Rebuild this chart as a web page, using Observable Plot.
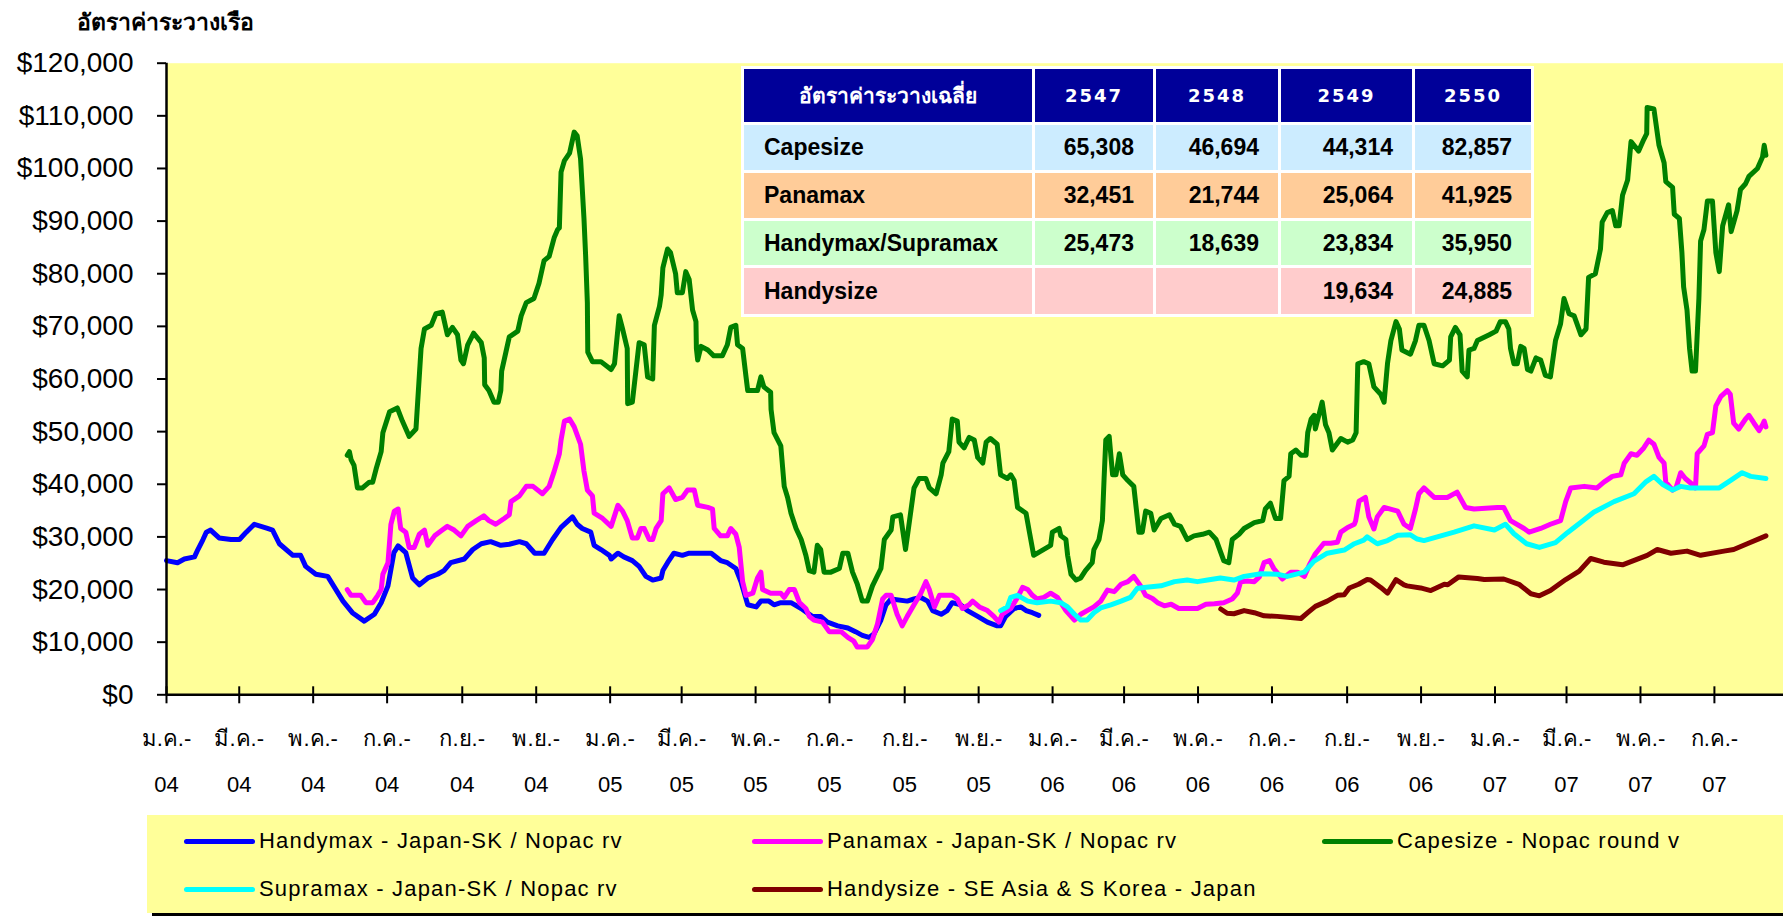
<!DOCTYPE html>
<html>
<head>
<meta charset="utf-8">
<script src="https://cdn.jsdelivr.net/npm/d3@7"></script>
<script src="https://cdn.jsdelivr.net/npm/@observablehq/plot@0.6"></script>
<style>
  html, body { margin: 0; padding: 0; background: #fff; overflow: hidden; }
  #wrap { position: relative; width: 1783px; height: 916px; overflow: hidden; font-family: "Liberation Sans", Arial, sans-serif; }
  #chart { position: absolute; left: 0; top: 0; }
  #title { position: absolute; left: 77px; top: 4px; font-weight: bold; font-size: 23px; color: #000; z-index: 3; white-space: nowrap; }
  #avg { position: absolute; left: 741px; top: 66px; border-collapse: separate; border-spacing: 3px; background: #fff; table-layout: fixed; z-index: 3; }
  #avg td { padding: 0; font-family: "Liberation Sans", Arial, sans-serif; font-weight: bold; font-size: 23px; color: #000; white-space: nowrap; }
  #avg tr.head td { background: #000099; color: #fff; text-align: center; height: 53px; font-family: "DejaVu Sans", Verdana, sans-serif; font-size: 18px; letter-spacing: 2px; }
  #avg tr.head td.th { font-size: 21px; letter-spacing: 0; }
  #avg td.lab { text-align: left; padding-left: 20px; }
  #avg td.num { text-align: right; padding-right: 19px; }
  #legend { position: absolute; left: 147px; top: 815px; width: 1636px; height: 98px; background: #FFFF99; z-index: 2; }
  #legendLine { position: absolute; left: 152px; top: 913px; width: 1631px; height: 3px; background: #000; z-index: 2; }
  .lg { position: absolute; height: 30px; display: flex; align-items: center; font-family: "Liberation Sans", Arial, sans-serif; font-size: 22px; letter-spacing: 1.2px; white-space: nowrap; }
  .sw { width: 71px; height: 5px; border-radius: 3px; margin-right: 4px; flex: none; }
</style>
</head>
<body>
<div id="wrap">
  <div id="chart"></div>
  <div id="title"></div>
  <table id="avg"></table>
  <div id="legend"></div>
  <div id="legendLine"></div>
</div>
<script>
// ---------- Data (x = weeks since 1 Jan 2004, y = US$/day) ----------
const titleText = "อัตราค่าระวางเรือ";

const handymax = [[0,25500],[1.3,25100],[2.1,25800],[3.3,26200],[3.7,27600],[4.3,29500],[4.7,30900],[5.2,31300],[6.2,29800],[7.6,29500],[8.6,29500],[9.4,30900],[10.35,32400],[11.9,31600],[12.5,31300],[13.3,28700],[14.9,26500],[15.8,26500],[16.4,24400],[17.6,22900],[19.0,22500],[19.8,20400],[20.8,17800],[21.9,15600],[23.3,14000],[24.5,15300],[25.3,17500],[26.1,20700],[26.8,27000],[27.3,28300],[28.2,27000],[29.0,22200],[29.8,20900],[30.8,22200],[31.95,22900],[32.7,23600],[33.5,25100],[35.1,25800],[36.1,27600],[37.1,28700],[38.2,29100],[39.4,28400],[40.4,28600],[41.6,29100],[42.4,28700],[43.4,26900],[44.5,26900],[45.5,29500],[46.5,31800],[47.85,33800],[48.4,32400],[49.0,31600],[50.0,30900],[50.4,28400],[51.2,27600],[52.2,26500],[52.4,25800],[53.2,26900],[53.9,26200],[54.9,25500],[55.7,24400],[56.5,22500],[57.3,21800],[58.3,22200],[58.5,23600],[59.05,25100],[59.8,26900],[60.8,26500],[61.6,26900],[64.2,26900],[65.3,25500],[66.1,25100],[67.1,24000],[67.7,21500],[68.5,17100],[69.5,16700],[70.05,17800],[71.0,17800],[71.6,17100],[72.4,17500],[73.6,17500],[74.8,16400],[76.1,14900],[77.1,14900],[77.9,13800],[79.1,13100],[80.3,12700],[81.2,12000],[82.0,11300],[82.8,10900],[83.4,11600],[84.2,14200],[84.8,17100],[85.4,18200],[87.3,17800],[88.1,18200],[88.9,18500],[89.7,17800],[90.3,16000],[91.3,15300],[92.0,16000],[92.6,17500],[93.6,17100],[94.4,16000],[95.6,14900],[96.75,13800],[97.9,13100],[98.3,13100],[98.9,14900],[99.9,16400],[100.7,16700],[101.3,16000],[102.05,15600],[102.8,15100]];

const panamax = [[21.3,20000],[21.75,18900],[22.9,18900],[23.5,17500],[24.3,17500],[24.9,18900],[25.3,20000],[25.5,22900],[26.1,25100],[26.45,32400],[26.85,34900],[27.3,35300],[27.6,31600],[28.2,30900],[28.6,28000],[29.2,28000],[29.8,30500],[30.4,31300],[30.8,28400],[31.6,30200],[32.5,31300],[33.1,32000],[33.9,31300],[34.7,30200],[35.5,32000],[36.5,33100],[37.4,34000],[38.0,33100],[38.8,32400],[39.8,33500],[40.4,34200],[40.6,36700],[41.6,37800],[42.4,39600],[43.2,39600],[44.3,38200],[45.1,39600],[45.7,42500],[46.3,45800],[46.5,48400],[46.9,52000],[47.5,52400],[48.05,50900],[48.8,47600],[49.2,42500],[49.6,38900],[50.2,37800],[50.4,34500],[51.4,33500],[52.4,32000],[53.2,36000],[53.75,34900],[54.3,33100],[54.9,29800],[55.5,29800],[55.9,31600],[56.3,31600],[56.9,29500],[57.3,29500],[57.7,31600],[58.3,33100],[58.5,38200],[59.25,39300],[60.0,37100],[60.8,37500],[61.4,38900],[62.2,38900],[62.6,36000],[63.8,35600],[64.35,35300],[64.55,31600],[65.3,30200],[66.1,30200],[66.5,31600],[67.1,30500],[67.5,28000],[67.9,21500],[68.3,18900],[69.1,19300],[69.65,22200],[70.05,23300],[70.25,20000],[71.2,19300],[72.4,19300],[72.8,18500],[73.4,20000],[74.0,20000],[74.6,17500],[75.35,16400],[75.75,14900],[76.3,14200],[77.3,13800],[78.1,12000],[79.5,12000],[80.3,10900],[81.0,10200],[81.4,9100],[82.6,9100],[83.2,10500],[83.8,13500],[84.4,18200],[84.8,18900],[85.4,18900],[86.1,15300],[86.7,13100],[87.3,14900],[88.1,17100],[88.9,19300],[89.5,21500],[89.9,20000],[90.5,16700],[91.1,18900],[92.6,18900],[93.2,18200],[93.8,16400],[94.6,17100],[95.0,17800],[95.8,16700],[96.75,16000],[97.5,14900],[98.1,13800],[98.5,15300],[99.5,16400],[100.3,18500],[100.9,20400],[101.5,20000],[102.05,18900],[102.6,18200],[103.4,18500],[104.2,19300],[105.0,18500],[105.4,17500],[106.0,16000],[107.0,14200],[107.75,15300],[108.5,16000],[109.3,16700],[110.1,17800],[110.9,19900],[111.7,19600],[112.5,21000],[113.3,21500],[114.0,22500],[114.8,20700],[115.4,18900],[116.2,18300],[116.8,17500],[117.6,16900],[118.4,17200],[119.3,16400],[120.3,16400],[121.5,16400],[122.5,17200],[123.5,17300],[124.6,17500],[125.6,18200],[126.2,19300],[126.6,21500],[127.4,21600],[128.2,21500],[128.8,22400],[129.35,25100],[130.0,25500],[130.5,24000],[131.5,22000],[132.5,23300],[133.3,23300],[134.1,22500],[134.7,24700],[135.4,26800],[136.4,28800],[137.2,28800],[138.0,29000],[138.4,30900],[139.2,31800],[140.0,32400],[140.15,33100],[140.55,36800],[141.3,37500],[141.7,33800],[142.3,31500],[142.7,33800],[143.5,35600],[145.1,34900],[145.85,32400],[146.6,31600],[147.2,35300],[147.6,38200],[148.2,39300],[149.4,37500],[150.95,37500],[152.1,38500],[153.1,35600],[154.1,35300],[156.85,35600],[157.6,35600],[158.4,33100],[160.0,31600],[160.6,30900],[161.95,31600],[163.1,32400],[164.3,33100],[164.9,36700],[165.5,39300],[167.1,39600],[168.6,39300],[169.4,40400],[170.4,41500],[171.4,41800],[171.8,44000],[172.6,45800],[173.3,45500],[174.1,46900],[174.7,48400],[175.3,47600],[175.9,45100],[176.5,44000],[176.7,40400],[177.5,38900],[177.9,39300],[178.45,42200],[179.0,41100],[179.8,40000],[180.2,39300],[180.4,45800],[181.2,47300],[181.6,49500],[182.2,49800],[182.6,54900],[183.2,56700],[183.95,57800],[184.3,57100],[184.7,51600],[185.3,50500],[186.1,52400],[186.5,53100],[187.1,51600],[187.7,50200],[188.1,51300],[188.3,52000],[188.5,50900]];

const capesize = [[21.3,45500],[21.55,46200],[21.75,44700],[22.1,43600],[22.5,39300],[23.1,39300],[23.9,40400],[24.3,40400],[24.7,42900],[25.3,46200],[25.5,49800],[26.3,53800],[27.2,54500],[27.8,52000],[28.6,49100],[29.4,50500],[30.0,65800],[30.4,69500],[31.2,70200],[31.75,72400],[32.5,72700],[33.1,68400],[33.7,69800],[34.3,68400],[34.7,63600],[35.0,62900],[35.5,66500],[36.2,68700],[37.1,66900],[37.45,64000],[37.5,58900],[38.0,57800],[38.6,55600],[39.1,55600],[39.4,57800],[39.5,61500],[40.0,65100],[40.4,68000],[41.4,69100],[41.8,72000],[42.4,74500],[43.3,75300],[43.9,78200],[44.5,82500],[45.1,83300],[45.7,86900],[46.1,88400],[46.3,88700],[46.5,99300],[46.9,101500],[47.5,102900],[48.05,106900],[48.4,106200],[48.8,101800],[49.2,90500],[49.4,83300],[49.6,74500],[49.65,65100],[50.2,63300],[51.2,63300],[52.4,61800],[52.8,62900],[53.35,72000],[53.75,69500],[54.3,65800],[54.35,55300],[54.9,55600],[55.7,66900],[56.3,66500],[56.7,60400],[57.3,60000],[57.5,70200],[58.1,73800],[58.3,76000],[58.5,81100],[59.05,84700],[59.4,84000],[60.0,80000],[60.2,76400],[60.8,76400],[61.2,80400],[61.6,78900],[62.0,73100],[62.4,70900],[62.45,65800],[62.6,63600],[63.0,66200],[63.8,65500],[64.5,64400],[65.5,64400],[66.1,66500],[66.5,69800],[67.1,70200],[67.3,66500],[67.9,65800],[68.3,60400],[68.5,57800],[69.65,57800],[70.05,60400],[70.4,58500],[71.2,57500],[71.25,54200],[71.6,49800],[72.4,47300],[72.8,39600],[73.2,37500],[73.6,34500],[74.2,31600],[74.8,29500],[75.35,26500],[75.75,23600],[76.3,23300],[76.7,28400],[77.1,27600],[77.5,23300],[78.3,23300],[79.3,24000],[79.7,26900],[80.3,26900],[80.85,23300],[81.4,21100],[82.0,17800],[82.6,17800],[83.2,20700],[84.2,24000],[84.6,29500],[85.4,31300],[85.6,33800],[86.5,34200],[87.1,27600],[88.1,39300],[88.7,41100],[89.5,41100],[89.9,39300],[90.7,38200],[91.3,41800],[91.5,44000],[92.2,46200],[92.6,52400],[93.2,52000],[93.4,48000],[94.0,46900],[94.6,48900],[95.2,48400],[95.6,45100],[96.2,44000],[96.6,48000],[97.1,48700],[97.9,47600],[98.3,41800],[99.1,41100],[99.5,41800],[99.9,40700],[100.3,35600],[101.3,34500],[101.7,30900],[102.2,26500],[104.2,28400],[104.4,30900],[105.2,31600],[105.4,30200],[106.0,29500],[106.2,26500],[106.6,22900],[107.2,21800],[107.75,22200],[108.3,23600],[109.1,25100],[109.3,27600],[109.9,29500],[110.3,33100],[110.5,41100],[110.7,48400],[111.1,49100],[111.5,41800],[111.9,41800],[112.3,45800],[112.7,41800],[113.3,40700],[114.0,39600],[114.4,33800],[114.6,30900],[115.0,30900],[115.4,34900],[116.0,34500],[116.4,31300],[117.2,33500],[118.2,34200],[118.8,32400],[119.5,32000],[120.3,29500],[121.1,30200],[122.1,30500],[122.9,30900],[123.7,29500],[124.6,25500],[125.2,25100],[125.6,29500],[126.4,30500],[127.0,31600],[128.2,32700],[129.2,33100],[129.5,35300],[130.1,36400],[130.7,33500],[131.3,33500],[131.7,40700],[132.3,41500],[132.5,45800],[133.1,46500],[133.7,45500],[134.3,45500],[134.5,49800],[134.9,52400],[135.25,53100],[135.4,50500],[136.2,55600],[136.6,51300],[137.0,49800],[137.4,46500],[138.4,48700],[139.2,48000],[139.8,48400],[140.2,49800],[140.4,62900],[141.1,63300],[141.7,62900],[142.3,58500],[143.1,57100],[143.5,55600],[143.9,62900],[144.3,67300],[144.9,70900],[145.3,69500],[145.6,65500],[146.6,64700],[147.2,67300],[147.6,70200],[148.2,70200],[148.8,67300],[149.4,62900],[150.4,62500],[151.2,63600],[151.35,68000],[151.9,69800],[152.45,68400],[152.7,61500],[153.3,60400],[153.5,65500],[154.1,65800],[154.5,67300],[155.9,68400],[156.7,69100],[157.2,70900],[157.8,70900],[158.2,69500],[158.4,65800],[158.8,62900],[159.2,62900],[159.6,66200],[160.0,65800],[160.4,61800],[160.8,61500],[161.4,64000],[161.95,63600],[162.5,60700],[163.1,60400],[163.7,67300],[164.3,70500],[164.7,75300],[165.3,72400],[165.9,72000],[166.7,68400],[167.3,69500],[167.6,79300],[168.4,80000],[169.0,84700],[169.2,89800],[169.8,91600],[170.4,92000],[170.8,89100],[171.2,89100],[171.6,94900],[172.2,97800],[172.6,105100],[173.5,103300],[174.1,105500],[174.45,106600],[174.5,111600],[175.3,111300],[175.9,104400],[176.5,101100],[176.7,97500],[177.5,96400],[177.7,91300],[178.3,90500],[178.6,84000],[178.8,77500],[179.2,73100],[179.5,65800],[179.8,61500],[180.2,61500],[180.6,75300],[180.8,86200],[181.2,88400],[181.6,93800],[182.2,93800],[182.6,84000],[183.0,80400],[183.4,89100],[184.1,93100],[184.4,88000],[185.1,92000],[185.5,96000],[186.1,97100],[186.5,98500],[187.5,100000],[188.1,102200],[188.3,104400],[188.5,102500]];

const supramax = [[98.3,16000],[99.1,16700],[99.5,18500],[100.3,18900],[101.5,17800],[102.6,17500],[104.2,17800],[105.4,17500],[106.2,16700],[107.0,15300],[107.75,14200],[108.5,14200],[109.3,15600],[110.1,16500],[111.3,17100],[112.5,17800],[113.6,18500],[114.4,20200],[115.2,20400],[117.2,20700],[118.8,21500],[120.3,21800],[121.5,21500],[122.7,21800],[124.2,22200],[125.8,21800],[127.0,22500],[129.0,23000],[130.9,22900],[132.1,22500],[134.1,23300],[135.25,25400],[136.8,26900],[138.8,27500],[140.0,28700],[141.1,29400],[141.5,30000],[142.7,28700],[143.9,29300],[145.1,30300],[146.6,30400],[147.4,29600],[148.2,29300],[150.6,30400],[151.75,30900],[154.1,32100],[156.5,31300],[157.8,32400],[158.8,30600],[160.3,28700],[161.8,28000],[163.7,28900],[165.1,30800],[166.7,32800],[168.2,34700],[170.6,36700],[172.95,38200],[174.3,40400],[175.3,41500],[176.3,40000],[177.5,38900],[178.45,39600],[179.6,39300],[183.0,39300],[184.3,40700],[185.7,42200],[186.7,41500],[188.5,41100]];

const handysize = [[124.25,16300],[125.0,15500],[125.8,15400],[127.0,16000],[128.2,15600],[129.35,15000],[130.9,14900],[133.7,14500],[134.5,15600],[135.4,16800],[136.8,17800],[138.0,18900],[138.8,19000],[139.4,20300],[140.5,21000],[141.5,21900],[141.9,21800],[143.1,20400],[143.9,19300],[144.9,21900],[145.85,20900],[146.2,20700],[147.8,20300],[149.0,19800],[150.6,21000],[151.0,20900],[152.3,22400],[154.5,22100],[155.3,21900],[157.6,22000],[159.4,21000],[160.8,19200],[161.8,18800],[163.1,19800],[164.9,21900],[166.5,23500],[167.85,25900],[169.4,25200],[171.6,24700],[174.5,26500],[175.7,27600],[177.3,26900],[179.2,27300],[180.8,26500],[183.55,27300],[184.7,27600],[186.3,28700],[188.5,30200]];

const seriesNames = ["Handymax - Japan-SK / Nopac rv", "Panamax - Japan-SK / Nopac rv", "Capesize - Nopac round v", "Supramax - Japan-SK / Nopac rv", "Handysize - SE Asia & S Korea - Japan"];
const seriesColors = ["#0000FF", "#FF00FF", "#008000", "#00FFFF", "#800000"];

const yTicks = [0, 10000, 20000, 30000, 40000, 50000, 60000, 70000, 80000, 90000, 100000, 110000, 120000];
const xTickDates = ["2004-01-01","2004-03-01","2004-05-01","2004-07-01","2004-09-01","2004-11-01","2005-01-01","2005-03-01","2005-05-01","2005-07-01","2005-09-01","2005-11-01","2006-01-01","2006-03-01","2006-05-01","2006-07-01","2006-09-01","2006-11-01","2007-01-01","2007-03-01","2007-05-01","2007-07-01"];
const xTickMonth = ["ม.ค.-","มี.ค.-","พ.ค.-","ก.ค.-","ก.ย.-","พ.ย.-","ม.ค.-","มี.ค.-","พ.ค.-","ก.ค.-","ก.ย.-","พ.ย.-","ม.ค.-","มี.ค.-","พ.ค.-","ก.ค.-","ก.ย.-","พ.ย.-","ม.ค.-","มี.ค.-","พ.ค.-","ก.ค.-"];
const xTickYear = ["04","04","04","04","04","04","05","05","05","05","05","05","06","06","06","06","06","06","07","07","07","07"];
const xDomain = ["2004-01-01", "2007-08-27"];

const tableHeader = ["อัตราค่าระวางเฉลี่ย", "2547", "2548", "2549", "2550"];
const tableRows = ["Capesize", "Panamax", "Handymax/Supramax", "Handysize"];
const tableValues = [
  ["65,308", "46,694", "44,314", "82,857"],
  ["32,451", "21,744", "25,064", "41,925"],
  ["25,473", "18,639", "23,834", "35,950"],
  ["", "", "19,634", "24,885"]
];
const tableRowColors = ["#CCECFF", "#FFCC99", "#CCFFCC", "#FFCCCC"];
const tableColWidths = [288, 118, 122, 131, 116];
const tableRowHeights = [45, 45, 44, 46];

// ---------- Build ----------
const base = Date.UTC(2004, 0, 1);
const toDate = w => new Date(base + Math.round(w * 7 * 86400000));
const allSeries = [handymax, panamax, capesize, supramax, handysize];
const rows = allSeries.flatMap((s, k) => s.map(([w, v]) => ({series: seriesNames[k], date: toDate(w), value: v})));

const tickDates = xTickDates.map(s => new Date(s));
const monthMap = new Map(tickDates.map((d, i) => [+d, xTickMonth[i]]));
const yearMap = new Map(tickDates.map((d, i) => [+d, xTickYear[i]]));

const W = 1783, H = 812, yTopPx = 62.7, yZeroPx = 694.3;
const tickInner = 8 * 120000 / (yZeroPx - yTopPx);

const chart = Plot.plot({
  width: W, height: H,
  marginTop: yTopPx, marginBottom: H - yZeroPx, marginLeft: 166, marginRight: 0,
  style: {fontFamily: "'Liberation Sans', Arial, sans-serif", background: "transparent", overflow: "visible"},
  x: {type: "utc", domain: xDomain.map(s => new Date(s)), label: null},
  y: {domain: [0, 120000], label: null},
  color: {domain: seriesNames, range: seriesColors},
  marks: [
    Plot.frame({fill: "#FFFF99", stroke: "none"}),
    Plot.line(rows, {x: "date", y: "value", z: "series", stroke: "series", strokeWidth: 5, strokeLinejoin: "round", strokeLinecap: "round"}),
    Plot.ruleX([new Date(xDomain[0])], {stroke: "#000", strokeWidth: 2.5}),
    Plot.ruleY([0], {stroke: "#000", strokeWidth: 2.5}),
    Plot.ruleX(tickDates, {y1: 0, y2: tickInner, stroke: "#000", strokeWidth: 2}),
    Plot.axisY({ticks: yTicks, tickFormat: d => "$" + d3.format(",")(d), tickSize: 9, tickPadding: 24, fontSize: 28, strokeWidth: 2, color: "#000", label: null}),
    Plot.axisX({ticks: tickDates, tickSize: 9, tickPadding: 27, tickFormat: d => monthMap.get(+d), fontSize: 22, strokeWidth: 2, color: "#000", label: null}),
    Plot.axisX({ticks: tickDates, tickSize: 0, tickPadding: 82, tickFormat: d => yearMap.get(+d), fontSize: 22, color: "#000", label: null})
  ]
});
document.getElementById("chart").appendChild(chart);

document.getElementById("title").textContent = titleText;

// table
const tbl = document.getElementById("avg");
const colgroup = document.createElement("colgroup");
tableColWidths.forEach(w => { const c = document.createElement("col"); c.style.width = w + "px"; colgroup.appendChild(c); });
tbl.appendChild(colgroup);
const hr = document.createElement("tr"); hr.className = "head";
tableHeader.forEach((t, i) => { const td = document.createElement("td"); td.textContent = t; if (i === 0) td.className = "th"; hr.appendChild(td); });
tbl.appendChild(hr);
tableRows.forEach((name, r) => {
  const tr = document.createElement("tr");
  const td0 = document.createElement("td"); td0.className = "lab"; td0.textContent = name; tr.appendChild(td0);
  tableValues[r].forEach(v => { const td = document.createElement("td"); td.className = "num"; td.textContent = v; tr.appendChild(td); });
  [...tr.children].forEach(td => { td.style.background = tableRowColors[r]; td.style.height = tableRowHeights[r] + "px"; });
  tbl.appendChild(tr);
});

// legend
const legendPos = [[184, 826], [752, 826], [1322, 826], [184, 874], [752, 874]];
const wrap = document.getElementById("wrap");
seriesNames.forEach((name, i) => {
  const d = document.createElement("div"); d.className = "lg";
  d.style.left = legendPos[i][0] + "px"; d.style.top = legendPos[i][1] + "px"; d.style.zIndex = 4;
  const sw = document.createElement("span"); sw.className = "sw"; sw.style.background = seriesColors[i];
  const tx = document.createElement("span"); tx.textContent = name;
  d.appendChild(sw); d.appendChild(tx);
  wrap.appendChild(d);
});
</script>
</body>
</html>
